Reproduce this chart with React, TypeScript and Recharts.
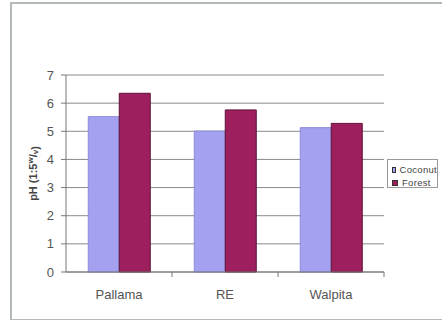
import { Bar, BarChart, CartesianGrid, Legend, XAxis, YAxis } from "recharts";

const sites = ["Pallama", "RE", "Walpita"];
const coconut = [5.52, 5.01, 5.13];
const forest = [6.35, 5.76, 5.28];
const phTicks = [0, 1, 2, 3, 4, 5, 6, 7];

const data = sites.map((site, i) => ({ site, coconut: coconut[i], forest: forest[i] }));

const W = 442;
const H = 320;
const margin = { top: 75, right: 58, bottom: 18, left: 0 };
const axisW = 66;
const xAxisH = 30;
const plotBottom = H - margin.bottom - xAxisH;
const band = (W - axisW - margin.right) / sites.length;
const font = "'Liberation Sans', Arial, sans-serif";

// category label plus a tick on the right boundary of its band
function SiteTick(p: any) {
  return (
    <g>
      <line x1={p.x + band / 2} x2={p.x + band / 2} y1={plotBottom} y2={plotBottom + 5} stroke="#777" />
      <text x={p.x} y={plotBottom + 27} textAnchor="middle" fill="#555" fontSize={13} fontFamily={font}>
        {p.payload.value}
      </text>
    </g>
  );
}

function PhLabel(p: any) {
  const vb = p.viewBox;
  const cy = vb.y + vb.height / 2;
  return (
    <text x={33} y={cy} transform={`rotate(-90 33 ${cy})`} textAnchor="middle" dominantBaseline="central"
      fontSize={11} fontWeight="bold" fill="#444" fontFamily={font}>
      pH (1:5<tspan fontSize={8} dy={-3}>w</tspan><tspan dy={3}>/</tspan><tspan fontSize={8} dy={2}>v</tspan>)
    </text>
  );
}

function LegendBox(p: any) {
  const items = p.payload ?? [];
  return (
    <div style={{ border: "1px solid #999", background: "#fff", height: 29, boxSizing: "border-box",
      padding: "3px 0 0 4px", fontFamily: font, fontSize: 9.5, color: "#444", letterSpacing: 0.3 }}>
      {items.map((it: any) => (
        <div key={it.value} style={{ display: "flex", alignItems: "center", height: 13 }}>
          <span style={{ width: 4, height: 4, background: it.color, border: "1px solid #333", marginRight: 4 }} />
          {it.value}
        </div>
      ))}
    </div>
  );
}

export default function App() {
  return (
    <div style={{ position: "absolute", left: 0, top: 0, width: W, height: H, background: "#fff", overflow: "hidden" }}>
      <div style={{ position: "absolute", left: 10, top: 2, width: W - 10, height: 315,
        borderLeft: "2px solid #b2b9b7", borderTop: "2px solid #b2b9b7", borderBottom: "2px solid #b2b9b7" }} />
      <BarChart width={W} height={H} data={data} margin={margin} barCategoryGap="21%" barGap={0}
        style={{ fontFamily: font }}>
        <CartesianGrid vertical={false} stroke="#8a8a8a" />
        <XAxis dataKey="site" height={xAxisH} stroke="#777" tickLine={false} tick={<SiteTick />} interval={0} />
        <YAxis domain={[0, 7]} ticks={phTicks} width={axisW} stroke="#777" tickSize={5} tickMargin={7}
          tick={{ fill: "#555", fontSize: 13 }} label={<PhLabel />} />
        <YAxis yAxisId="frame" orientation="right" width={0} stroke="#999" tick={false} tickLine={false} />
        <Legend layout="horizontal" align="center" verticalAlign="middle" content={<LegendBox />}
          wrapperStyle={{ left: 387, top: 159, width: 51, height: 29 }} />
        <Bar dataKey="coconut" name="Coconut" fill="#a3a1f0" stroke="#8d8bd8" isAnimationActive={false} />
        <Bar dataKey="forest" name="Forest" fill="#9d1f5e" stroke="#5e1238" isAnimationActive={false} />
      </BarChart>
    </div>
  );
}
